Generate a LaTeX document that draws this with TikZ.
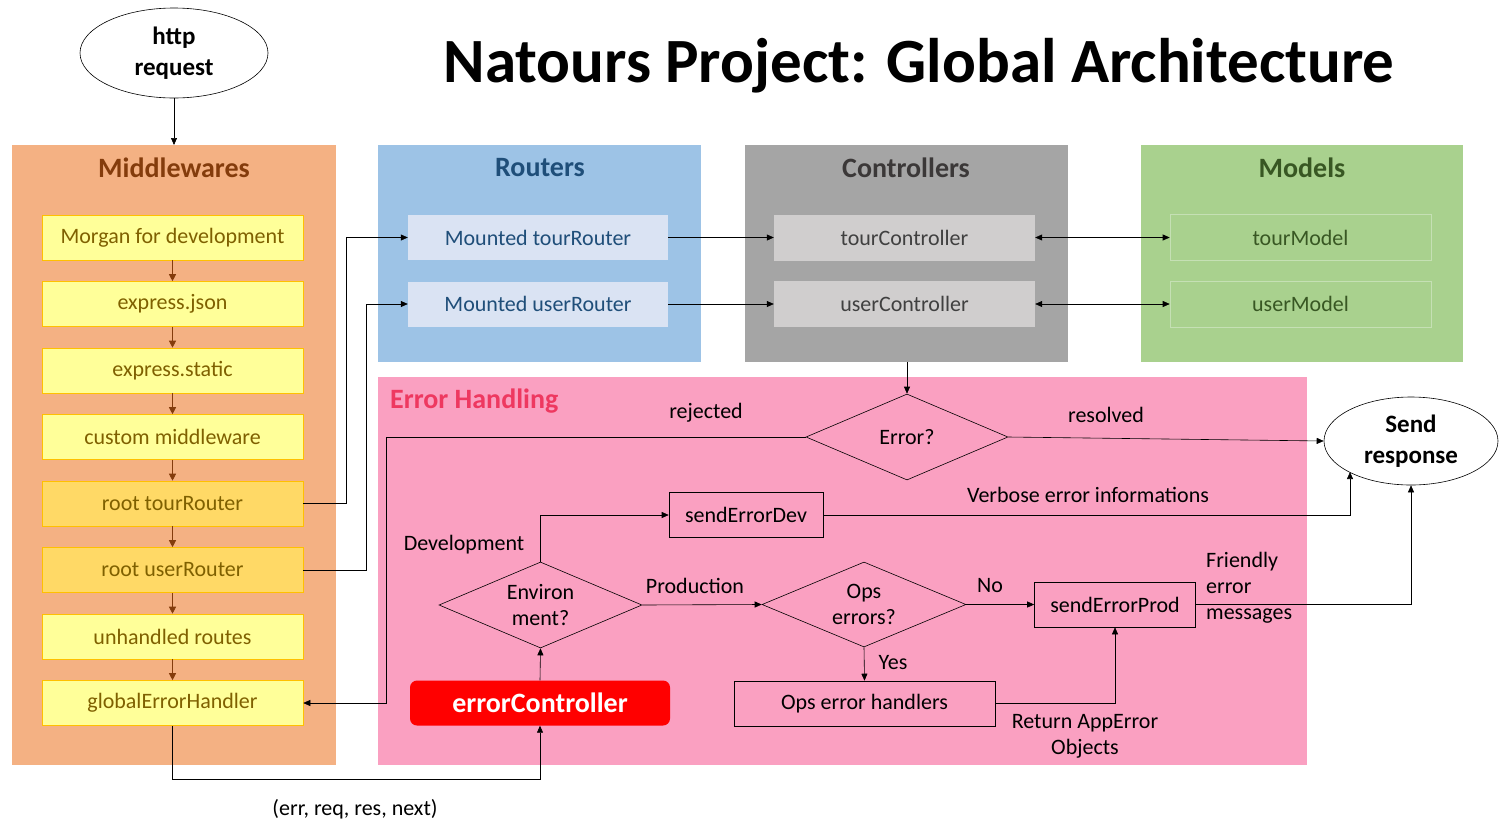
\documentclass[tikz,border=0pt]{standalone}
\usepackage{fontspec}
\setmainfont{Carlito}
\usetikzlibrary{shapes.geometric,arrows.meta}
\definecolor{midbg}{HTML}{F4B183}
\definecolor{midtitle}{HTML}{843C0C}
\definecolor{ybox}{HTML}{FFFF99}
\definecolor{yborder}{HTML}{FFC000}
\definecolor{rootbox}{HTML}{FFD966}
\definecolor{ytext}{HTML}{7F6000}
\definecolor{routbg}{HTML}{9DC3E6}
\definecolor{routtitle}{HTML}{1F4E79}
\definecolor{routbox}{HTML}{DAE3F3}
\definecolor{ctrlbg}{HTML}{A5A5A5}
\definecolor{ctrltitle}{HTML}{3B3838}
\definecolor{ctrlbox}{HTML}{D0CECE}
\definecolor{ctrltext}{HTML}{404040}
\definecolor{modbg}{HTML}{A9D18E}
\definecolor{modtitle}{HTML}{385723}
\definecolor{modborder}{HTML}{C5E0B4}
\definecolor{errbg}{HTML}{FAA0C1}
\definecolor{errtitle}{HTML}{EE3860}
\begin{document}
\begin{tikzpicture}[x=1pt,y=-1pt,
  every node/.style={font=\fontsize{22}{26}\selectfont, inner sep=0pt},
  ptitle/.style={font=\fontsize{28}{32}\selectfont\bfseries},
  mbox/.style={draw=yborder, line width=0.6pt, fill=ybox, text=ytext, minimum width=261pt, minimum height=45pt},
  rbox/.style={mbox, fill=rootbox},
  routerbox/.style={draw=none, fill=routbox, text=routtitle, minimum width=260pt, minimum height=45pt},
  ctrlnode/.style={draw=none, fill=ctrlbox, text=ctrltext, minimum width=261pt, minimum height=46pt},
  modnode/.style={draw=modborder, line width=0.6pt, fill=modbg, text=modtitle, minimum width=261pt, minimum height=46pt},
  flowbox/.style={draw=black, line width=0.6pt, minimum height=45pt, text=black},
  dec/.style={diamond, draw=black, line width=0.6pt, align=center, font=\fontsize{22}{26}\selectfont},
  oval/.style={ellipse, draw=black, line width=0.6pt, align=center, font=\fontsize{25}{31}\selectfont\bfseries},
  lbl/.style={text=black, align=center},
  arr/.style={draw=black, line width=0.6pt, -{Triangle[length=7pt,width=6pt]}},
  barr/.style={draw=black, line width=0.6pt, {Triangle[length=7pt,width=6pt]}-{Triangle[length=7pt,width=6pt]}},
  marr/.style={draw=midtitle, line width=0.7pt, -{Triangle[length=7pt,width=7pt]}}
]
\useasboundingbox (0,0) rectangle (1502,836);

% title
\node (title) at (919,66) {\fontsize{63}{66}\selectfont\bfseries Natours Project: Global Architecture};

% http request
\node[oval, minimum width=188pt, minimum height=90pt] (http) at (174,53) {http\\request};

% panels
\fill[midbg] (12,145) rectangle (336,765);
\fill[routbg] (378,145) rectangle (701,362);
\fill[ctrlbg] (745,145) rectangle (1068,362);
\fill[modbg] (1141,145) rectangle (1463,362);
\fill[errbg] (378,377) rectangle (1307,765);
\coordinate (midtop) at (174,145);
\coordinate (ctrlbot) at (907,362);

\node[ptitle, text=midtitle] (tmid) at (174,168) {Middlewares};
\node[ptitle, text=routtitle] (trout) at (540,168) {Routers};
\node[ptitle, text=ctrltitle] (tctrl) at (906,168) {Controllers};
\node[ptitle, text=modtitle] (tmod) at (1302,168) {Models};
\node[ptitle, text=errtitle, anchor=west] (terr) at (390,401) {Error Handling};

% middleware boxes
\node[mbox] (m1) at (172.5,237.5) {Morgan for development};
\node[mbox] (m2) at (172.5,304) {express.json};
\node[mbox] (m3) at (172.5,370.5) {express.static};
\node[mbox] (m4) at (172.5,437) {custom middleware};
\node[rbox] (m5) at (172.5,503.5) {root tourRouter};
\node[rbox] (m6) at (172.5,570) {root userRouter};
\node[mbox] (m7) at (172.5,636.5) {unhandled routes};
\node[mbox] (m8) at (172.5,703) {globalErrorHandler};
\foreach \a/\b in {m1/m2,m2/m3,m3/m4,m4/m5,m5/m6,m6/m7,m7/m8}
  \draw[marr] (\a) -- (\b);

% routers, controllers, models
\node[routerbox] (r1) at (538,237.5) {Mounted tourRouter};
\node[routerbox] (r2) at (538,304) {Mounted userRouter};
\node[ctrlnode] (c1) at (904.5,237.5) {tourController};
\node[ctrlnode] (c2) at (904.5,304) {userController};
\node[modnode] (d1) at (1300.5,237.5) {tourModel};
\node[modnode] (d2) at (1300.5,304) {userModel};

\draw[arr] (http) -- (midtop);
\draw[arr] (m5.east) -- (346,503.5) |- (r1.west);
\draw[arr] (m6.east) -- (366,570) |- (r2.west);
\draw[arr] (r1) -- (c1);
\draw[arr] (r2) -- (c2);
\draw[barr] (c1) -- (d1);
\draw[barr] (c2) -- (d2);

% error handling flow
\node[dec, minimum width=202pt, minimum height=86pt] (err) at (907,437) {Error?};
\node[oval, minimum width=174pt, minimum height=88pt] (send) at (1411,441) {Send\\response};
\node[flowbox, minimum width=154pt] (dev) at (746,515) {sendErrorDev};
\node[dec, minimum width=203pt, minimum height=86pt,
      label={[align=center, font=\fontsize{22}{26}\selectfont]center:Environ\\ment?}] (env) at (540.5,605) {};
\node[dec, minimum width=204pt, minimum height=85pt,
      label={[align=center, font=\fontsize{22}{26}\selectfont]center:Ops\\errors?}] (ops) at (864,604.5) {};
\node[flowbox, minimum width=161pt] (prod) at (1115,604.5) {sendErrorProd};
\node[flowbox, minimum width=261pt] (opsh) at (864.5,703.5) {Ops error handlers};
\node[draw=none, fill=red, rounded corners=7pt, minimum width=260pt, minimum height=45pt, text=white,
      font=\fontsize{28}{32}\selectfont\bfseries] (ectrl) at (540,703) {errorController};

\draw[arr] (ctrlbot) -- (err.north);
\draw[arr] (err.west) -- (386,437) |- (m8.east);
\draw[arr] (err.east) -- (send.west);
\draw[arr] (dev.east) -- (1350,515) -- (1350,472);
\draw[arr] (env.north) |- (dev.west);
\draw[arr] (env.east) -- (ops.west);
\draw[arr] (ops.east) -- (prod.west);
\draw[arr] (prod.east) -- (1411,604.5) -- (send.south);
\draw[arr] (ops.south) -- (opsh.north);
\draw[arr] (opsh.east) -| (prod.south);
\draw[arr] (ectrl.north) -- (env.south);
\draw[arr] (m8.south) -- (172.5,779) -| (ectrl.south);

% labels
\node[lbl] (lrej) at (706,413) {rejected};
\node[lbl] (lres) at (1106,415) {resolved};
\node[lbl] (lverb) at (1088,495) {Verbose error informations};
\node[lbl] (ldev) at (464,545) {Development};
\node[lbl] (lprod) at (695,586) {Production};
\node[lbl] (lno) at (990,586) {No};
\node[lbl] (lyes) at (893,663) {Yes};
\node[lbl, align=left, anchor=west] (lfr) at (1206,588) {Friendly\\error\\messages};
\node[lbl] (lret) at (1085,736) {Return AppError\\Objects};
\node[lbl] (largs) at (355,809) {(err, req, res, next)};
\end{tikzpicture}
\end{document}
